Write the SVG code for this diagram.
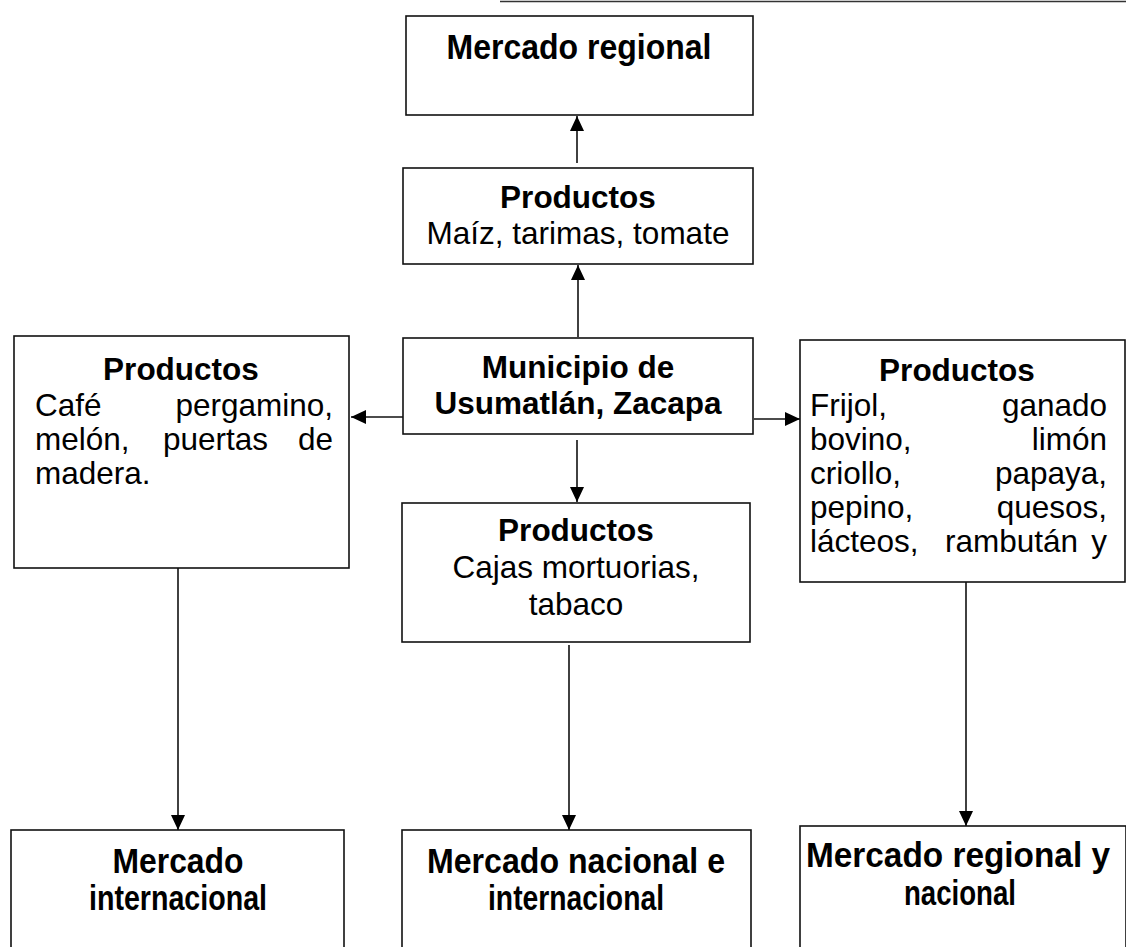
<svg xmlns="http://www.w3.org/2000/svg" width="1126" height="947" viewBox="0 0 1126 947">
<style>
.box{fill:#fff;stroke:#111;stroke-width:1.6}
.b{font-family:"Liberation Sans",Arial,sans-serif;font-weight:bold;font-size:31.5px;fill:#000}
.r{font-family:"Liberation Sans",Arial,sans-serif;font-size:31.5px;fill:#000}
.m{font-family:"Liberation Sans",Arial,sans-serif;font-weight:bold;font-size:35px;fill:#000}
.c{text-anchor:middle}
.e{text-anchor:end}
.conn{stroke:#111;stroke-width:1.6;fill:none;marker-end:url(#ah)}
</style>
<defs>
<marker id="ah" viewBox="0 0 15 14" refX="15" refY="7" markerWidth="15" markerHeight="14" markerUnits="userSpaceOnUse" orient="auto">
<path d="M0,0 L15,7 L0,14 z" fill="#000"/>
</marker>
</defs>
<rect width="1126" height="947" fill="#fff"/>
<line x1="500" y1="1.5" x2="1126" y2="1.5" stroke="#333" stroke-width="1.6"/>

<g id="connectors">
<path class="conn" d="M578,337 L578,265"/>
<path class="conn" d="M577,163 L577,116"/>
<path class="conn" d="M403,417 L351,417"/>
<path class="conn" d="M754,419 L800,419"/>
<path class="conn" d="M577,440 L577,502"/>
<path class="conn" d="M178,568 L178,830"/>
<path class="conn" d="M569,645 L569,830"/>
<path class="conn" d="M966,582 L966,826"/>
</g>

<g id="mercado-regional">
<rect class="box" x="406" y="16" width="347" height="99"/>
<text class="m c" x="579" y="59" textLength="265" lengthAdjust="spacingAndGlyphs">Mercado regional</text>
</g>

<g id="productos-maiz">
<rect class="box" x="403" y="168" width="350" height="96"/>
<text class="b c" x="578" y="208">Productos</text>
<text class="r c" x="578" y="244">Maíz, tarimas, tomate</text>
</g>

<g id="municipio">
<rect class="box" x="403" y="338" width="350" height="96"/>
<text class="b c" x="578" y="378">Municipio de</text>
<text class="b c" x="578" y="414">Usumatlán, Zacapa</text>
</g>

<g id="productos-cafe">
<rect class="box" x="14" y="336" width="335" height="232"/>
<text class="b c" x="181" y="380">Productos</text>
<text class="r" x="35" y="416">Café</text>
<text class="r e" x="333" y="416">pergamino,</text>
<text class="r" x="35" y="450">melón,</text>
<text class="r" x="163" y="450">puertas</text>
<text class="r e" x="333" y="450">de</text>
<text class="r" x="35" y="484">madera.</text>
</g>

<g id="productos-frijol">
<rect class="box" x="800" y="340" width="325" height="242"/>
<text class="b c" x="957" y="381">Productos</text>
<text class="r" x="810" y="416">Frijol,</text>
<text class="r e" x="1107" y="416">ganado</text>
<text class="r" x="810" y="450">bovino,</text>
<text class="r e" x="1107" y="450">limón</text>
<text class="r" x="810" y="484">criollo,</text>
<text class="r e" x="1107" y="484">papaya,</text>
<text class="r" x="810" y="518">pepino,</text>
<text class="r e" x="1107" y="518">quesos,</text>
<text class="r" x="810" y="552">lácteos,</text>
<text class="r" x="945" y="552">rambután</text>
<text class="r e" x="1107" y="552">y</text>
</g>

<g id="productos-cajas">
<rect class="box" x="402" y="503" width="348" height="139"/>
<text class="b c" x="576" y="541">Productos</text>
<text class="r c" x="576" y="578">Cajas mortuorias,</text>
<text class="r c" x="576" y="615">tabaco</text>
</g>

<g id="mercado-internacional">
<rect class="box" x="11" y="830" width="333" height="130"/>
<text class="m c" x="178" y="873" textLength="131" lengthAdjust="spacingAndGlyphs">Mercado</text>
<text class="m c" x="178" y="910" textLength="178" lengthAdjust="spacingAndGlyphs">internacional</text>
</g>

<g id="mercado-nacional-internacional">
<rect class="box" x="402" y="830" width="349" height="130"/>
<text class="m c" x="576" y="873" textLength="298" lengthAdjust="spacingAndGlyphs">Mercado nacional e</text>
<text class="m c" x="576" y="910" textLength="176" lengthAdjust="spacingAndGlyphs">internacional</text>
</g>

<g id="mercado-regional-nacional">
<rect class="box" x="800" y="826" width="326" height="130"/>
<text class="m c" x="958" y="867" textLength="304" lengthAdjust="spacingAndGlyphs">Mercado regional y</text>
<text class="m c" x="960" y="905" textLength="112" lengthAdjust="spacingAndGlyphs">nacional</text>
</g>
</svg>
